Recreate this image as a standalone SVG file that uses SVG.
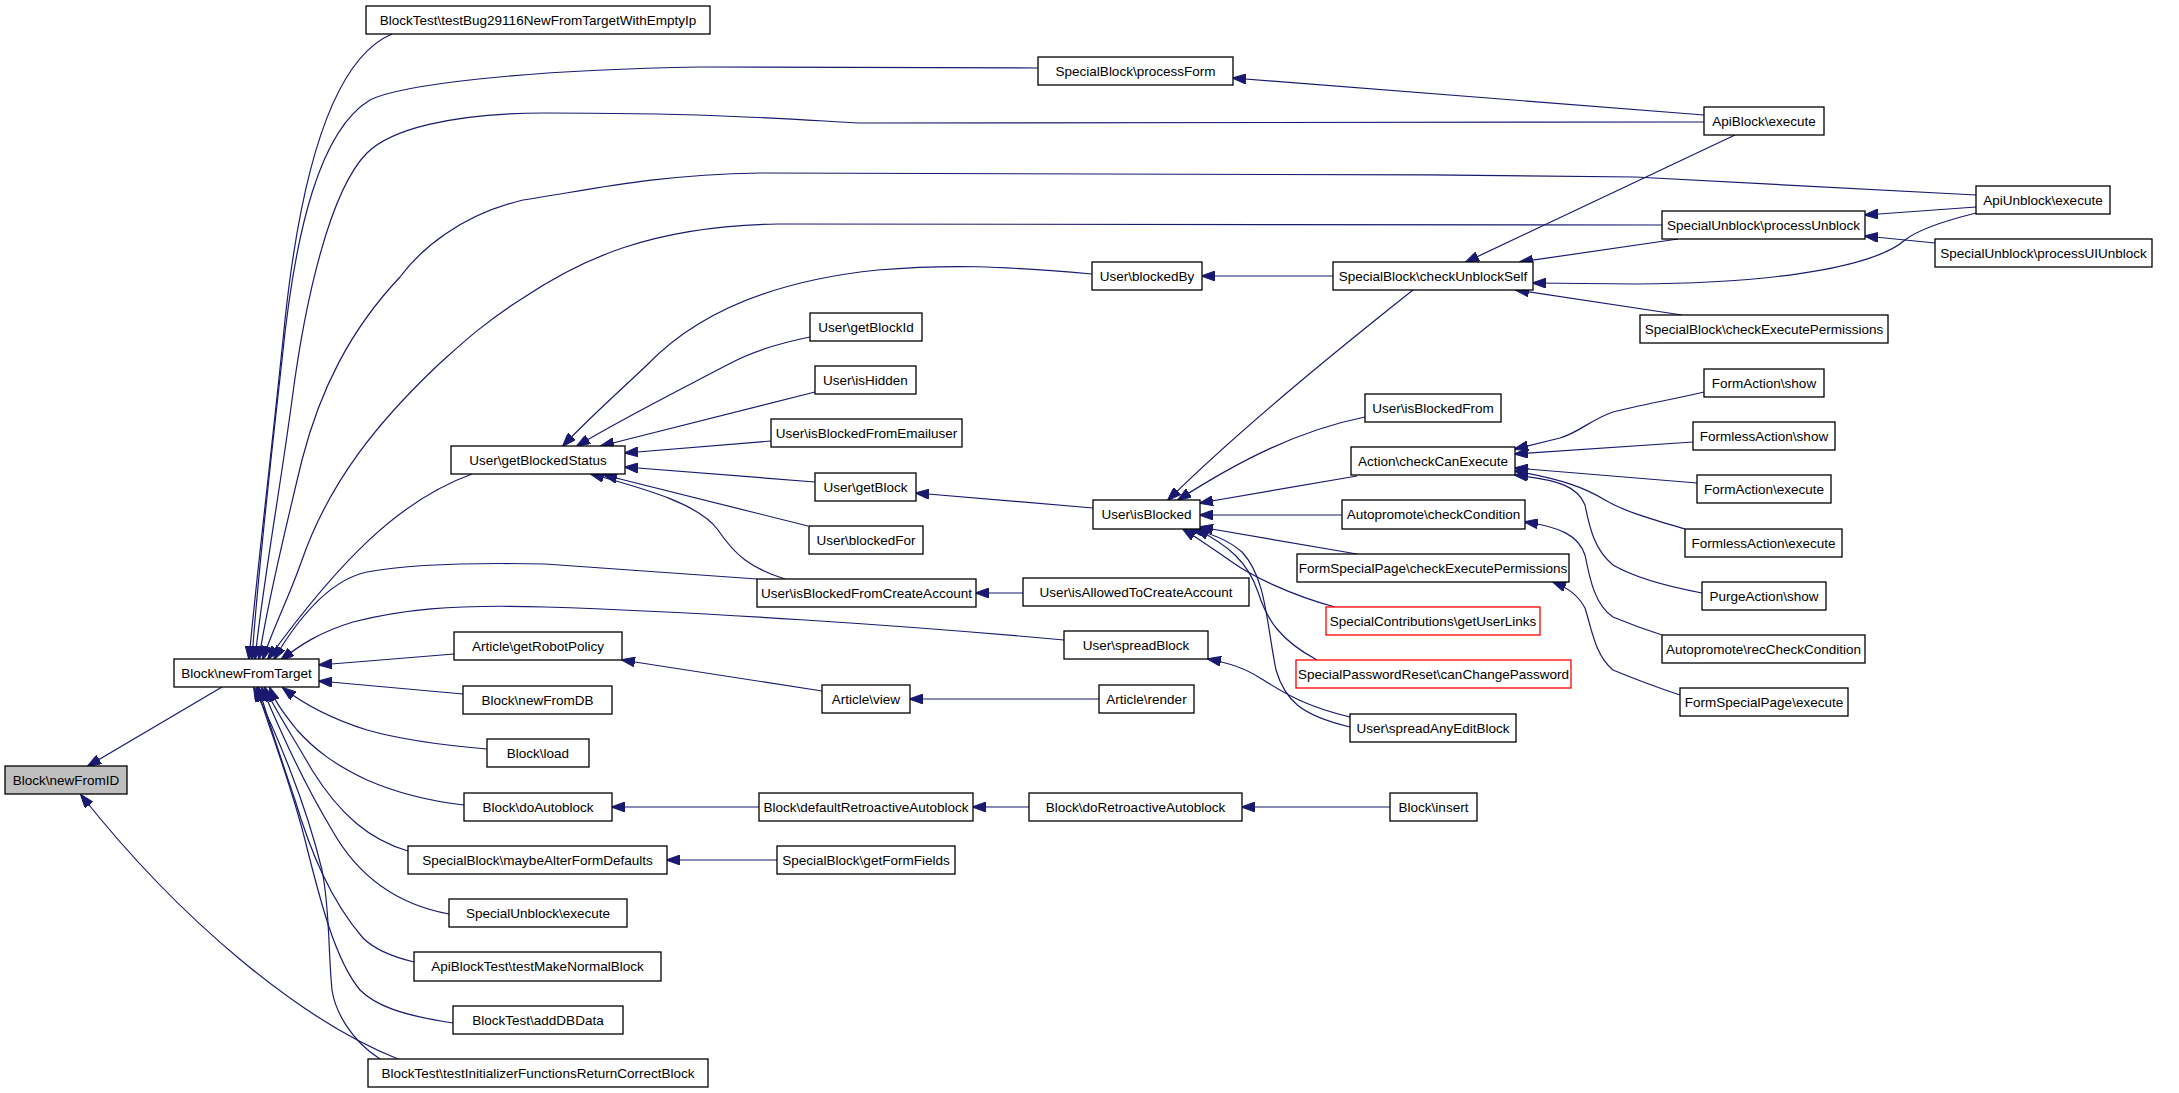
<svg xmlns="http://www.w3.org/2000/svg" width="2179" height="1093" viewBox="0 0 2179 1093">
<style>
.n rect{fill:#ffffff;stroke:#000000;stroke-width:1.3}
.n.r rect{stroke:#ff0000}
.n.g rect{fill:#bfbfbf}
.n text{font-family:"Liberation Sans",Arial,Helvetica,sans-serif;font-size:13.5px;fill:#000000;text-anchor:middle}
#edges path{fill:none;stroke:#191970;stroke-width:1.2;marker-end:url(#ah)}
</style>
<defs>
<marker id="ah" markerUnits="userSpaceOnUse" markerWidth="14" markerHeight="10" refX="13" refY="5" orient="auto">
<path d="M0,0 L14,5 L0,10 z" fill="#191970" stroke="#191970" stroke-width="1"/>
</marker>
</defs>
<rect x="0" y="0" width="2179" height="1093" fill="#ffffff"/>
<g id="edges">
<path d="M222,687 L88,766"/>
<path d="M398,1059 C300,1020 180,920 81,795"/>
<path d="M392,34 C330,60 300,180 285,320 C272,450 256,580 249,659"/>
<path d="M1038,68 L700,67 C520,70 400,85 370,100 C320,130 295,230 282,360 C272,450 258,570 252,659"/>
<path d="M1704,122 L860,123 C800,120 720,113 545,113 C450,113 390,130 367,153 C330,190 305,300 292,400 C280,490 262,590 255,659"/>
<path d="M1976,195 L1635,177 C1300,173 900,172 760,173 C650,175 590,190 523,200 C460,215 420,250 400,277 C350,330 320,390 302,460 C285,530 266,610 259,659"/>
<path d="M1662,225 L778,224 C650,226 580,260 523,298 C480,325 455,350 438,365 C380,420 330,480 302,560 C288,600 272,630 263,659"/>
<path d="M472,474 C400,500 340,560 268,659"/>
<path d="M757,579 L545,564 C450,562 400,566 367,572 C330,580 300,615 274,659"/>
<path d="M1064,640 C900,625 700,612 545,607 C450,604 400,610 353,622 C320,632 300,645 281,660"/>
<path d="M454,654 L319,665"/>
<path d="M463,694 L319,681"/>
<path d="M487,749 C440,745 395,738 367,730 C335,720 305,705 283,688"/>
<path d="M464,805 C420,800 390,790 367,780 C335,765 315,750 297,730 C285,715 275,702 270,688"/>
<path d="M408,851 C370,840 340,815 312,770 C292,735 275,710 265,688"/>
<path d="M449,914 C400,905 360,880 332,830 C302,780 280,730 262,688"/>
<path d="M414,962 C385,955 370,945 363,938 C330,900 310,850 295,800 C280,755 266,715 259,688"/>
<path d="M453,1023 C400,1015 375,1005 360,990 C335,960 320,900 305,840 C290,780 266,720 257,688"/>
<path d="M380,1059 C350,1040 335,1010 332,990 C328,950 330,910 322,870 C305,800 275,730 254,688"/>
<path d="M1092,274 C1000,266 950,264 878,270 C780,280 700,310 647,365 C610,400 582,425 563,446"/>
<path d="M810,337 C770,345 745,355 727,365 C660,400 620,420 577,446"/>
<path d="M815,392 L601,446"/>
<path d="M771,441 L625,453"/>
<path d="M815,482 L625,467"/>
<path d="M808,526 L604,475"/>
<path d="M785,579 C750,568 735,555 718,530 C700,505 650,490 591,474"/>
<path d="M1333,276 L1202,276"/>
<path d="M1735,135 L1466,262"/>
<path d="M1678,239 L1520,262"/>
<path d="M1976,213 C1940,222 1915,232 1905,240 C1880,262 1800,283 1635,284 L1533,283"/>
<path d="M1682,315 L1516,290"/>
<path d="M1413,290 C1350,340 1250,420 1168,500"/>
<path d="M1704,115 L1233,78"/>
<path d="M1976,207 L1865,215"/>
<path d="M1935,243 L1865,236"/>
<path d="M1365,417 C1300,430 1240,460 1178,500"/>
<path d="M1357,476 L1200,503"/>
<path d="M1342,515 L1200,515"/>
<path d="M1357,554 L1200,527"/>
<path d="M1335,607 C1290,595 1250,575 1232,562 C1215,550 1200,540 1183,529"/>
<path d="M1317,660 C1280,640 1267,620 1258,592 C1248,562 1228,545 1196,529"/>
<path d="M1350,727 C1300,715 1285,700 1276,670 C1266,620 1266,578 1242,552 C1228,540 1212,533 1190,529"/>
<path d="M1350,717 C1300,705 1280,690 1260,678 C1245,668 1230,663 1208,659"/>
<path d="M1093,508 L916,493"/>
<path d="M1704,392 C1670,400 1640,405 1613,412 C1590,420 1580,432 1560,438 L1515,449"/>
<path d="M1693,442 L1515,454"/>
<path d="M1697,483 L1515,468"/>
<path d="M1685,529 C1655,520 1625,512 1605,500 C1585,488 1565,480 1515,471"/>
<path d="M1702,593 C1660,585 1630,575 1613,565 C1595,550 1590,530 1585,505 C1578,487 1560,480 1515,475"/>
<path d="M1662,635 C1640,628 1625,622 1613,617 C1595,605 1590,580 1585,555 C1578,535 1560,527 1525,522"/>
<path d="M1680,695 C1650,685 1625,675 1613,670 C1595,655 1592,630 1585,608 C1578,595 1568,588 1553,582"/>
<path d="M1023,593 L976,593"/>
<path d="M1099,699 L910,699"/>
<path d="M822,691 L622,660"/>
<path d="M759,807 L612,807"/>
<path d="M1029,807 L973,807"/>
<path d="M1390,807 L1242,807"/>
<path d="M777,860 L667,860"/>
</g>
<g id="n_newFromID" class="n g"><rect x="5" y="766" width="122" height="28"/><text x="66" y="784.5">Block\newFromID</text></g>
<g id="n_newFromTarget" class="n"><rect x="174" y="659" width="145" height="28"/><text x="246.5" y="677.5">Block\newFromTarget</text></g>
<g id="n_testBug" class="n"><rect x="366" y="6" width="344" height="28"/><text x="538" y="24.5">BlockTest\testBug29116NewFromTargetWithEmptyIp</text></g>
<g id="n_processForm" class="n"><rect x="1038" y="57" width="195" height="28"/><text x="1135.5" y="75.5">SpecialBlock\processForm</text></g>
<g id="n_apiBlockExec" class="n"><rect x="1704" y="107" width="120" height="28"/><text x="1764" y="125.5">ApiBlock\execute</text></g>
<g id="n_apiUnblockExec" class="n"><rect x="1976" y="186" width="134" height="28"/><text x="2043" y="204.5">ApiUnblock\execute</text></g>
<g id="n_processUnblock" class="n"><rect x="1662" y="211" width="203" height="28"/><text x="1763.5" y="229.5">SpecialUnblock\processUnblock</text></g>
<g id="n_processUIUnblock" class="n"><rect x="1935" y="239" width="217" height="28"/><text x="2043.5" y="257.5">SpecialUnblock\processUIUnblock</text></g>
<g id="n_checkUnblockSelf" class="n"><rect x="1333" y="262" width="200" height="28"/><text x="1433" y="280.5">SpecialBlock\checkUnblockSelf</text></g>
<g id="n_blockedBy" class="n"><rect x="1092" y="262" width="110" height="28"/><text x="1147" y="280.5">User\blockedBy</text></g>
<g id="n_sbCheckExecPerm" class="n"><rect x="1640" y="315" width="248" height="28"/><text x="1764" y="333.5">SpecialBlock\checkExecutePermissions</text></g>
<g id="n_getBlockId" class="n"><rect x="810" y="313" width="112" height="28"/><text x="866" y="331.5">User\getBlockId</text></g>
<g id="n_isHidden" class="n"><rect x="815" y="366" width="101" height="28"/><text x="865.5" y="384.5">User\isHidden</text></g>
<g id="n_isBlockedFrom" class="n"><rect x="1365" y="394" width="136" height="28"/><text x="1433" y="412.5">User\isBlockedFrom</text></g>
<g id="n_formActionShow" class="n"><rect x="1704" y="369" width="120" height="28"/><text x="1764" y="387.5">FormAction\show</text></g>
<g id="n_isBlockedFromEmailuser" class="n"><rect x="771" y="419" width="191" height="28"/><text x="866.5" y="437.5">User\isBlockedFromEmailuser</text></g>
<g id="n_formlessActionShow" class="n"><rect x="1693" y="422" width="142" height="28"/><text x="1764" y="440.5">FormlessAction\show</text></g>
<g id="n_getBlockedStatus" class="n"><rect x="451" y="446" width="174" height="28"/><text x="538" y="464.5">User\getBlockedStatus</text></g>
<g id="n_checkCanExecute" class="n"><rect x="1351" y="447" width="164" height="28"/><text x="1433" y="465.5">Action\checkCanExecute</text></g>
<g id="n_getBlock" class="n"><rect x="815" y="473" width="101" height="28"/><text x="865.5" y="491.5">User\getBlock</text></g>
<g id="n_formActionExec" class="n"><rect x="1697" y="475" width="134" height="28"/><text x="1764" y="493.5">FormAction\execute</text></g>
<g id="n_isBlocked" class="n"><rect x="1093" y="500" width="107" height="29"/><text x="1146.5" y="519">User\isBlocked</text></g>
<g id="n_checkCondition" class="n"><rect x="1342" y="500" width="183" height="29"/><text x="1433.5" y="519">Autopromote\checkCondition</text></g>
<g id="n_blockedFor" class="n"><rect x="809" y="526" width="114" height="28"/><text x="866" y="544.5">User\blockedFor</text></g>
<g id="n_formlessActionExec" class="n"><rect x="1685" y="529" width="157" height="28"/><text x="1763.5" y="547.5">FormlessAction\execute</text></g>
<g id="n_fspCheckExecPerm" class="n"><rect x="1297" y="554" width="272" height="28"/><text x="1433" y="572.5">FormSpecialPage\checkExecutePermissions</text></g>
<g id="n_isBlockedFromCreateAccount" class="n"><rect x="757" y="579" width="219" height="28"/><text x="866.5" y="597.5">User\isBlockedFromCreateAccount</text></g>
<g id="n_isAllowedToCreateAccount" class="n"><rect x="1023" y="578" width="226" height="28"/><text x="1136" y="596.5">User\isAllowedToCreateAccount</text></g>
<g id="n_purgeActionShow" class="n"><rect x="1702" y="582" width="124" height="28"/><text x="1764" y="600.5">PurgeAction\show</text></g>
<g id="n_getUserLinks" class="n r"><rect x="1326" y="607" width="214" height="28"/><text x="1433" y="625.5">SpecialContributions\getUserLinks</text></g>
<g id="n_getRobotPolicy" class="n"><rect x="454" y="632" width="168" height="28"/><text x="538" y="650.5">Article\getRobotPolicy</text></g>
<g id="n_spreadBlock" class="n"><rect x="1064" y="631" width="144" height="28"/><text x="1136" y="649.5">User\spreadBlock</text></g>
<g id="n_recCheckCondition" class="n"><rect x="1662" y="635" width="203" height="28"/><text x="1763.5" y="653.5">Autopromote\recCheckCondition</text></g>
<g id="n_canChangePassword" class="n r"><rect x="1296" y="660" width="275" height="28"/><text x="1433.5" y="678.5">SpecialPasswordReset\canChangePassword</text></g>
<g id="n_newFromDB" class="n"><rect x="463" y="686" width="149" height="28"/><text x="537.5" y="704.5">Block\newFromDB</text></g>
<g id="n_articleView" class="n"><rect x="822" y="685" width="88" height="28"/><text x="866" y="703.5">Article\view</text></g>
<g id="n_articleRender" class="n"><rect x="1099" y="685" width="95" height="28"/><text x="1146.5" y="703.5">Article\render</text></g>
<g id="n_fspExecute" class="n"><rect x="1680" y="688" width="168" height="28"/><text x="1764" y="706.5">FormSpecialPage\execute</text></g>
<g id="n_spreadAnyEditBlock" class="n"><rect x="1350" y="714" width="166" height="28"/><text x="1433" y="732.5">User\spreadAnyEditBlock</text></g>
<g id="n_load" class="n"><rect x="487" y="739" width="102" height="28"/><text x="538" y="757.5">Block\load</text></g>
<g id="n_doAutoblock" class="n"><rect x="464" y="793" width="148" height="28"/><text x="538" y="811.5">Block\doAutoblock</text></g>
<g id="n_defaultRetro" class="n"><rect x="759" y="793" width="214" height="28"/><text x="866" y="811.5">Block\defaultRetroactiveAutoblock</text></g>
<g id="n_doRetro" class="n"><rect x="1029" y="793" width="213" height="28"/><text x="1135.5" y="811.5">Block\doRetroactiveAutoblock</text></g>
<g id="n_insert" class="n"><rect x="1390" y="793" width="87" height="28"/><text x="1433.5" y="811.5">Block\insert</text></g>
<g id="n_maybeAlter" class="n"><rect x="408" y="846" width="259" height="28"/><text x="537.5" y="864.5">SpecialBlock\maybeAlterFormDefaults</text></g>
<g id="n_getFormFields" class="n"><rect x="777" y="846" width="178" height="28"/><text x="866" y="864.5">SpecialBlock\getFormFields</text></g>
<g id="n_suExecute" class="n"><rect x="449" y="899" width="178" height="28"/><text x="538" y="917.5">SpecialUnblock\execute</text></g>
<g id="n_testMakeNormal" class="n"><rect x="414" y="952" width="247" height="29"/><text x="537.5" y="971">ApiBlockTest\testMakeNormalBlock</text></g>
<g id="n_addDBData" class="n"><rect x="453" y="1006" width="170" height="28"/><text x="538" y="1024.5">BlockTest\addDBData</text></g>
<g id="n_testInit" class="n"><rect x="368" y="1059" width="340" height="28"/><text x="538" y="1077.5">BlockTest\testInitializerFunctionsReturnCorrectBlock</text></g>
</svg>
